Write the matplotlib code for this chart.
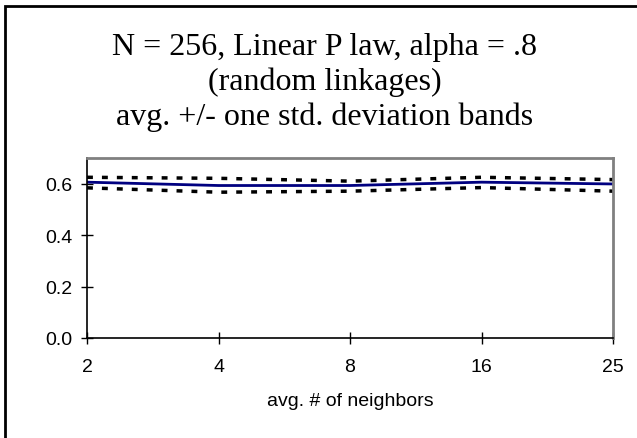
import matplotlib.pyplot as plt
from matplotlib.patches import Rectangle

categories = ["2", "4", "8", "16", "25"]
avg = [0.606, 0.593, 0.593, 0.606, 0.599]
upper = [0.625, 0.621, 0.610, 0.625, 0.616]
lower = [0.584, 0.567, 0.571, 0.585, 0.571]
title_lines = ["N = 256, Linear P law, alpha = .8",
               "(random linkages)",
               "avg. +/- one std. deviation bands"]

fig = plt.figure(figsize=(6.37, 4.39), dpi=100)
# outer chart frame (cut off at right and bottom in the original)
fig.patches.append(Rectangle((5 / 637, -0.1), 2.0, 1.1 - 7 / 439,
                             transform=fig.transFigure, fill=False,
                             edgecolor="black", linewidth=2, zorder=0))

ax = fig.add_axes([87 / 637, 1 - 339 / 439, (613 - 87) / 637, (339 - 159) / 439])
x = list(range(len(categories)))
ax.plot(x, avg, color="#000080", linewidth=2)
ax.plot(x, upper, color="black", linewidth=2.5, linestyle=(0, (1.7, 2.6)))
ax.plot(x, lower, color="black", linewidth=2.5, linestyle=(0, (1.7, 2.6)))

ax.set_xlim(0, len(categories) - 1)
ax.set_ylim(0, 0.7)
ax.set_xticks(x)
ax.set_xticklabels(categories)
ax.set_yticks([0.0, 0.2, 0.4, 0.6])
ax.set_yticklabels(["0.0", "0.2", "0.4", "0.6"])
ax.tick_params(direction="inout", length=9, width=1, labelsize=14)
ax.tick_params(axis="x", pad=10)
ax.tick_params(axis="y", pad=6)
for lab in ax.get_xticklabels() + ax.get_yticklabels():
    lab.set_fontfamily("Liberation Sans")
ax.spines["top"].set_color("#808080")
ax.spines["right"].set_color("#808080")
ax.spines["top"].set_linewidth(2)
ax.spines["right"].set_linewidth(2)
ax.spines["left"].set_linewidth(1.2)
ax.spines["bottom"].set_linewidth(1.2)
ax.set_xlabel("avg. # of neighbors", fontfamily="Liberation Sans", fontsize=14, labelpad=12)

baselines = [55, 90, 125]
for line, yb in zip(title_lines, baselines):
    fig.text(325 / 637, 1 - yb / 439, line, ha="center", va="baseline",
             fontfamily="Liberation Serif", fontsize=23)

fig.savefig("out.png", dpi=100)
